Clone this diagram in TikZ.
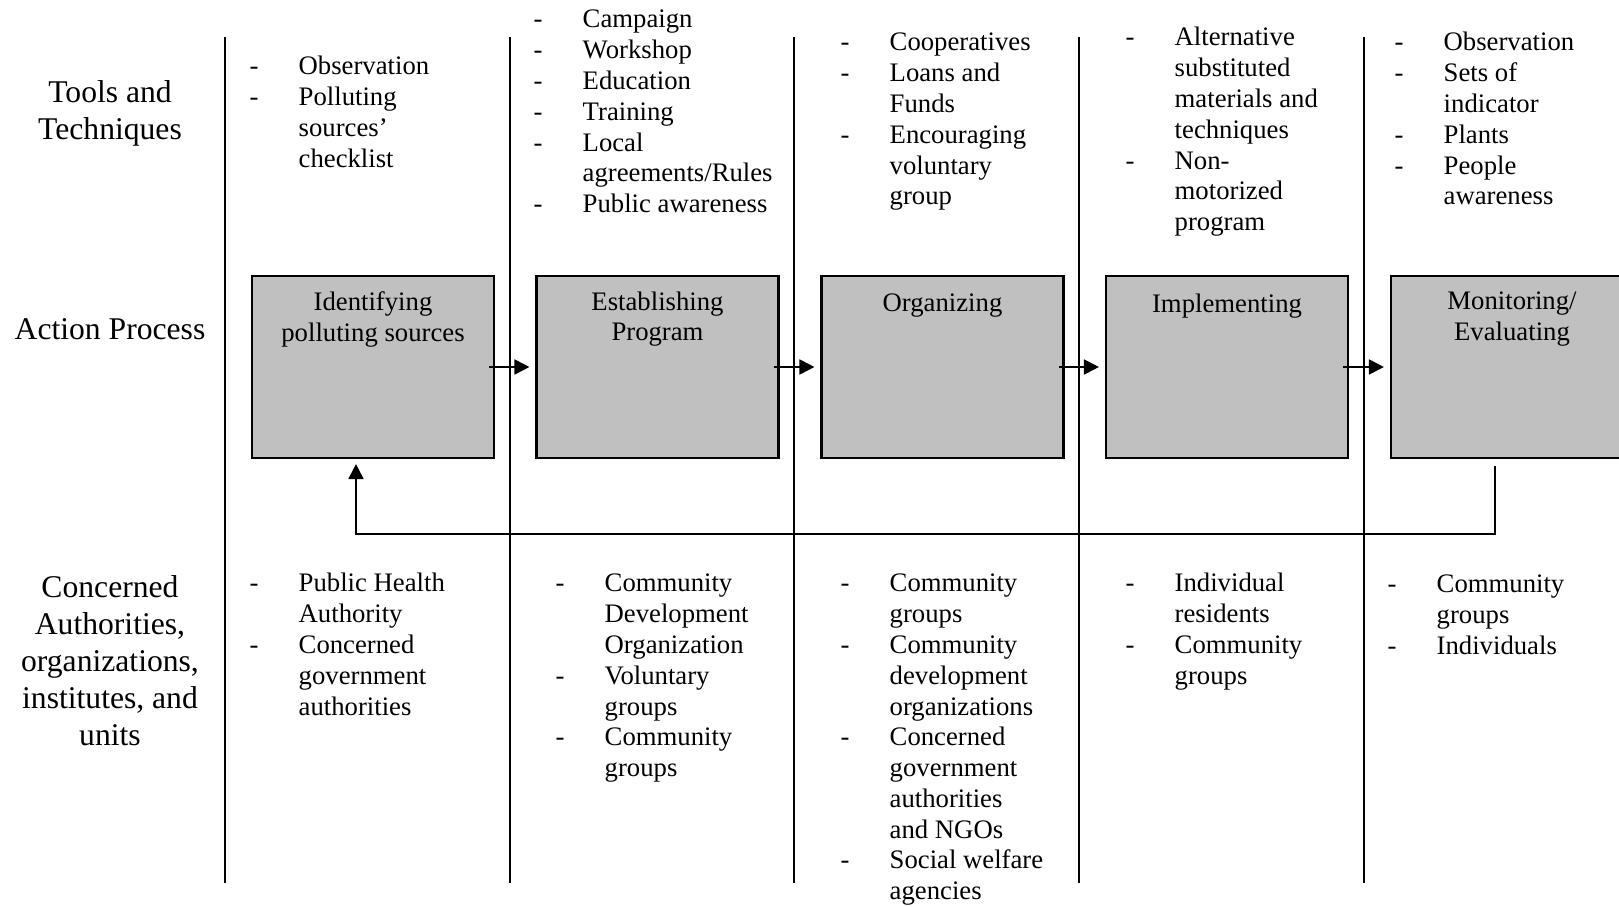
\documentclass[tikz,border=0pt]{standalone}
\usepackage{fontspec}
\setmainfont{Liberation Serif}
\usepackage{xcolor}
\usepackage{tikz}
\usetikzlibrary{positioning,arrows.meta}

\definecolor{boxgray}{RGB}{192,192,192}
\newcommand{\dashlist}[1]{\begin{tabular}[t]{@{}p{0.49cm}@{}l@{}}#1\end{tabular}}

\begin{document}
\begin{tikzpicture}[
  >={Triangle[length=0.15cm,width=0.15cm]},
  rowlabel/.style={align=center, inner sep=0pt, font=\fontsize{9}{10.55}\selectfont},
  stage/.style={draw, line width=0.6pt, fill=boxgray, minimum width=2.42cm, minimum height=1.82cm, inner sep=0pt},
  stagetitle/.style={align=center, inner sep=0pt, font=\fontsize{7.6}{8.75}\selectfont},
  items/.style={anchor=base west, inner sep=0pt, font=\fontsize{7.6}{8.75}\selectfont},
  flow/.style={->, line width=0.5pt},
  lane/.style={line width=0.6pt}
]
\useasboundingbox (0,0) rectangle (16.19,-9.07);

% Row labels
\node[rowlabel] (tools) at (1.10,-1.135) {Tools and\\Techniques};
\node[rowlabel] (action) at (1.10,-3.29) {Action Process};
\node[rowlabel] (actors) at (1.10,-6.61) {Concerned\\Authorities,\\organizations,\\institutes, and\\units};

% Column separators
\foreach \x in {2.25,5.10,7.94,10.79,13.64}
  \draw[lane] (\x,-0.37) -- (\x,-8.83);

% Stages
\node[stage] (b1) at (3.73,-3.67) {};
\node[stage] (b2) at (6.575,-3.67) {};
\node[stage] (b3) at (9.425,-3.67) {};
\node[stage] (b4) at (12.27,-3.67) {};
\node[stage] (b5) at (15.12,-3.67) {};
\node[stagetitle, below=0.16cm of b1.north] (t1) {Identifying\\polluting sources};
\node[stagetitle, below=0.16cm of b2.north] (t2) {Establishing\\Program};
\node[stagetitle, below=0.18cm of b3.north] (t3) {Organizing};
\node[stagetitle, below=0.18cm of b4.north] (t4) {Implementing};
\node[stagetitle, below=0.16cm of b5.north] (t5) {Monitoring/\\Evaluating};

% Flow
\foreach \a/\b in {b1/b2,b2/b3,b3/b4,b4/b5}
  \draw[flow] ([xshift=-0.06cm]\a.east) -- ([xshift=-0.06cm]\b.west);
\draw[flow] ([shift={(-0.17,-0.07)}]b5.south) -- ++(0,-0.68) -| ([shift={(-0.17,-0.05)}]b1.south);

% Tools and techniques
\node[items] (tool1) at (2.49,-0.75) {\dashlist{-&Observation\\-&Polluting\\&sources’\\&checklist}};
\node[items] (tool2) at (5.33,-0.28) {\dashlist{-&Campaign\\-&Workshop\\-&Education\\-&Training\\-&Local\\&agreements/Rules\\-&Public awareness}};
\node[items] (tool3) at (8.40,-0.51) {\dashlist{-&Cooperatives\\-&Loans and\\&Funds\\-&Encouraging\\&voluntary\\&group}};
\node[items] (tool4) at (11.25,-0.46) {\dashlist{-&Alternative\\&substituted\\&materials and\\&techniques\\-&Non-\\&motorized\\&program}};
\node[items] (tool5) at (13.94,-0.51) {\dashlist{-&Observation\\-&Sets of\\&indicator\\-&Plants\\-&People\\&awareness}};

% Concerned authorities
\node[items] (org1) at (2.49,-5.92) {\dashlist{-&Public Health\\&Authority\\-&Concerned\\&government\\&authorities}};
\node[items] (org2) at (5.55,-5.92) {\dashlist{-&Community\\&Development\\&Organization\\-&Voluntary\\&groups\\-&Community\\&groups}};
\node[items] (org3) at (8.40,-5.92) {\dashlist{-&Community\\&groups\\-&Community\\&development\\&organizations\\-&Concerned\\&government\\&authorities\\&and NGOs\\-&Social welfare\\&agencies}};
\node[items] (org4) at (11.25,-5.92) {\dashlist{-&Individual\\&residents\\-&Community\\&groups}};
\node[items] (org5) at (13.87,-5.93) {\dashlist{-&Community\\&groups\\-&Individuals}};

\end{tikzpicture}
\end{document}
